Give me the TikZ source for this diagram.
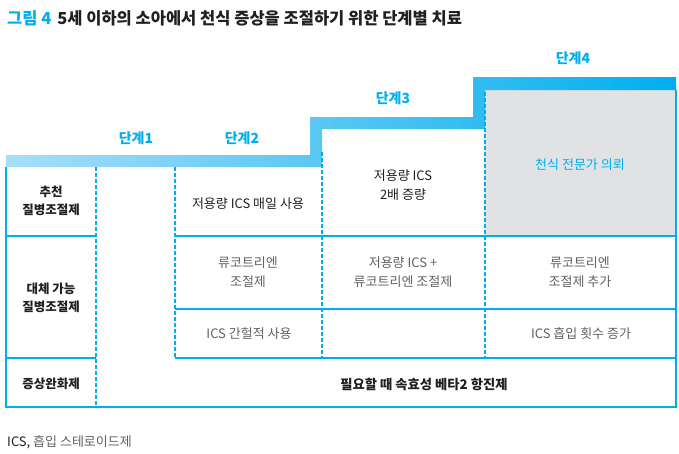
\documentclass[tikz,border=0pt]{standalone}
\usepackage{fontspec}
\setmainfont{Noto Sans CJK KR}
\usetikzlibrary{positioning}

\definecolor{stepblue}{HTML}{00AEEF}
\definecolor{paleblue}{HTML}{A8DEF7}
\definecolor{boxgray}{HTML}{E1E2E4}
\definecolor{textdark}{HTML}{231F20}
\definecolor{textgray}{HTML}{606163}

\begin{document}
\begin{tikzpicture}[x=1pt, y=-1pt,
    stage/.style={text=stepblue, font=\fontsize{14}{16}\selectfont\bfseries},
    rowhead/.style={align=center, text=textdark, font=\fontsize{12.5}{18}\selectfont\bfseries},
    cell/.style={align=center, text=textdark, font=\fontsize{13}{19}\selectfont},
    altcell/.style={align=center, text=textgray, font=\fontsize{13}{19}\selectfont},
    grid/.style={draw=stepblue, line width=1.2pt},
    dashgrid/.style={draw=stepblue, line width=1.1pt, dash pattern=on 4pt off 2pt}]

    \useasboundingbox (0,0) rectangle (679,453);

    % Title
    \node (title) [anchor=west, inner sep=0pt, text=textdark, font=\fontsize{16.5}{19}\selectfont\bfseries] at (7,18)
        {\textcolor{stepblue}{그림 4}\hspace{6pt}5세 이하의 소아에서 천식 증상을 조절하기 위한 단계별 치료};

    % Step band
    \fill[boxgray] (485,90) rectangle (676,236);
    \shade[left color=paleblue, right color=stepblue]
        (6,155) -- (310,155) -- (310,117) -- (473,117) -- (473,77) -- (676,77)
        -- (676,90) -- (485,90) -- (485,129) -- (322,129) -- (322,167) -- (6,167) -- cycle;

    % Stages
    \node (stage1) [stage] at (136,138) {단계1};
    \node (stage2) [stage] at (242,138) {단계2};
    \node (stage3) [stage] at (393,98) {단계3};
    \node (stage4) [stage] at (573,58) {단계4};

    % Grid
    \draw[grid] (6,167) -- (6,407) -- (676,407) -- (676,90);
    \draw[grid] (6,236) -- (96,236);
    \draw[grid] (175,236) -- (676,236);
    \draw[grid] (175,309) -- (676,309);
    \draw[grid, line width=2.2pt] (6,358) -- (96,358);
    \draw[grid, line width=2.2pt] (175,358) -- (676,358);
    \draw[dashgrid] (96,167) -- (96,407);
    \draw[dashgrid] (175,167) -- (175,358);
    \draw[dashgrid] (322,152) -- (322,358);
    \draw[dashgrid] (485,92) -- (485,358);

    % Row heads
    \node (controller) [rowhead] at (51,201) {추천\\질병조절제};
    \node (alternative) [rowhead] at (51,298) {대체 가능\\질병조절제};
    \node (reliever) [rowhead] at (51,384) {증상완화제};

    % Cells
    \node (dailyICS) [cell] at (248,204) {저용량 ICS 매일 사용};
    \node (doubleICS) [cell] at (403,185) {저용량 ICS\\2배 증량};
    \node (referral) [cell, text=stepblue] at (580,165) {천식 전문가 의뢰};
    \node (ltra) [altcell] at (248,272) {류코트리엔\\조절제};
    \node (intermittent) [altcell] at (249,334) {ICS 간헐적 사용};
    \node (icsLtra) [altcell] at (403,272) {저용량 ICS +\\류코트리엔 조절제};
    \node (addLtra) [altcell] at (580,272) {류코트리엔\\조절제 추가};
    \node (moreICS) [altcell] at (581,334) {ICS 흡입 횟수 증가};
    \node (saba) [cell, font=\fontsize{13.3}{19}\selectfont\bfseries] at (424,384) {필요할 때 속효성 베타2 항진제};

    % Footnote
    \node (footnote) [anchor=west, inner sep=0pt, text=textgray, font=\fontsize{13}{15}\selectfont] at (7,442)
        {\textcolor{textdark}{ICS,} 흡입 스테로이드제};

\end{tikzpicture}
\end{document}
